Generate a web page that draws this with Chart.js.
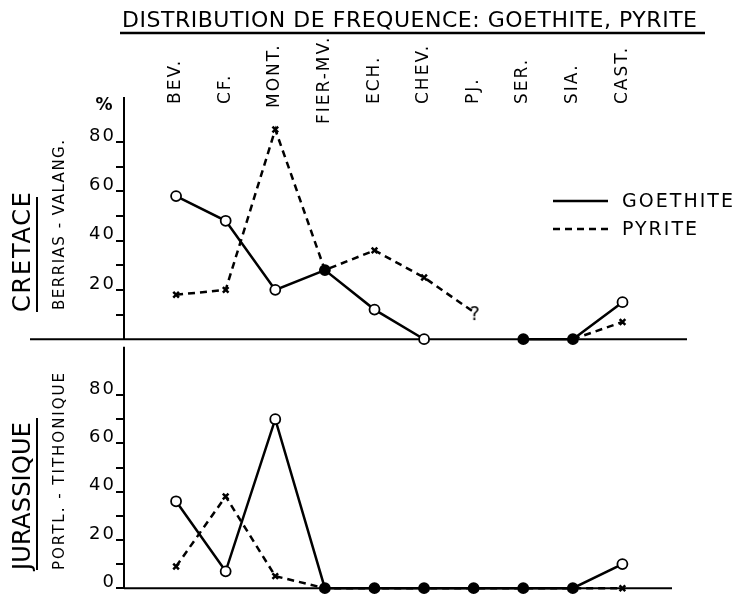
<!DOCTYPE html>
<html>
<head>
<meta charset="utf-8">
<script src="https://cdn.jsdelivr.net/npm/chart.js@4.4.0/dist/chart.umd.min.js"></script>
<style>
html, body { margin: 0; padding: 0; background: #fff; }
#wrap { position: relative; width: 734px; height: 595px; overflow: hidden; }
#topCanvas { position: absolute; left: 0; top: 0; }
#botCanvas { position: absolute; left: 0; top: 340px; }
</style>
</head>
<body>
<div id="wrap">
  <canvas id="topCanvas" width="734" height="346"></canvas>
  <canvas id="botCanvas" width="734" height="255"></canvas>
</div>
<script>
// sites along the section
var siteLabels = ['BEV.', 'CF.', 'MONT.', 'FIER-MV.', 'ECH.', 'CHEV.', 'PJ.', 'SER.', 'SIA.', 'CAST.'];

// frequency in % (null = no observation)
var cretaceGoethite = [58, 48, 20, 28, 12, 0, null, 0, 0, 15];
var cretacePyrite = [18, 20, 85, 28, 36, 25, 11, null, 0, 7];
var jurassicGoethite = [36, 7, 70, 0, 0, 0, 0, 0, 0, 10];
var jurassicPyrite = [9, 38, 5, 0, 0, 0, 0, 0, 0, 0];

var cretaceTicks = [10, 20, 30, 40, 50, 60, 70, 80];
var jurassicTicks = [0, 10, 20, 30, 40, 50, 60, 70, 80];

var FONT = "'DejaVu Sans', sans-serif";

// question mark used as marker where the pyrite curve stops
var qMark = document.createElement('canvas');
qMark.width = 30; qMark.height = 30;
(function(){
    var c = qMark.getContext('2d');
    c.fillStyle = '#000';
    c.font = '19px ' + FONT;
    c.textAlign = 'center';
    c.textBaseline = 'middle';
    c.fillText('?', 16, 18);
})();

function toPoints(arr){
    return arr.map(function(v, i){ return {x: i, y: v}; });
}

function spacedText(ctx, text, x, y, width, font){
    ctx.font = font;
    ctx.letterSpacing = '0px';
    var w = ctx.measureText(text).width;
    var sp = text.length > 1 ? (width - w) / (text.length - 1) : 0;
    ctx.letterSpacing = sp + 'px';
    ctx.fillText(text, x, y);
    ctx.letterSpacing = '0px';
}

function upText(ctx, text, cx, bottom, len, font){
    ctx.save();
    ctx.translate(cx, bottom);
    ctx.rotate(-Math.PI / 2);
    ctx.textAlign = 'left';
    ctx.textBaseline = 'middle';
    spacedText(ctx, text, 0, 0, len, font);
    ctx.restore();
}

var decor = {
    id: 'decor',
    beforeDraw: function(chart, args, o){
        chart.ctx.letterSpacing = '2px';
        // FIER-MV. sits lower than the other site names
        var sc = chart.scales.x;
        if (o.siteShift && sc.options.display) {
            var items = sc._computeLabelItems(chart.chartArea);
            items.forEach(function(it, i){
                var t = it.options && it.options.translation ? it.options.translation : it.translation;
                if (t && o.siteShift[i]) t[1] += o.siteShift[i];
            });
            sc._labelItems = items;
        }
    },
    beforeDatasetsDraw: function(chart, args, o){
        var ctx = chart.ctx, a = chart.chartArea;
        ctx.letterSpacing = '0px';
        ctx.save();
        ctx.strokeStyle = '#000';
        ctx.lineWidth = 2;
        ctx.beginPath();
        ctx.moveTo(a.left, a.top - o.axisAbove);
        ctx.lineTo(a.left, a.bottom);
        ctx.stroke();
        var y0 = chart.scales.y.getPixelForValue(0);
        ctx.beginPath();
        ctx.moveTo(o.zeroFrom, y0);
        ctx.lineTo(a.right, y0);
        ctx.stroke();
        ctx.restore();
    },
    afterDraw: function(chart, args, o){
        var ctx = chart.ctx;
        ctx.save();
        ctx.fillStyle = '#000';
        ctx.strokeStyle = '#000';

        // panel names on the left
        upText(ctx, o.panel, 24, o.panelBottom, o.panelLen, '24px ' + FONT);
        upText(ctx, o.sub, 60, o.subBottom, o.subLen, '15px ' + FONT);
        ctx.lineWidth = 2;
        ctx.beginPath();
        ctx.moveTo(37, o.ulTop);
        ctx.lineTo(37, o.panelBottom);
        ctx.stroke();

        if (o.title) {
            ctx.textAlign = 'left';
            ctx.textBaseline = 'middle';
            spacedText(ctx, 'DISTRIBUTION DE FREQUENCE: GOETHITE, PYRITE', 122, 21, 575, '22px ' + FONT);
            ctx.lineWidth = 2.5;
            ctx.beginPath();
            ctx.moveTo(120, 33);
            ctx.lineTo(705, 33);
            ctx.stroke();

            ctx.font = 'bold 17px ' + FONT;
            ctx.textAlign = 'center';
            ctx.fillText('%', 104, 106);

            // legend
            var ly = [201, 229];
            var lw = [111, 75];
            chart.data.datasets.forEach(function(ds, i){
                ctx.lineWidth = 2.5;
                ctx.setLineDash(ds.borderDash || []);
                ctx.beginPath();
                ctx.moveTo(553, ly[i]);
                ctx.lineTo(608, ly[i]);
                ctx.stroke();
                ctx.setLineDash([]);
                ctx.textAlign = 'left';
                ctx.textBaseline = 'middle';
                spacedText(ctx, ds.label, 622, ly[i] + 1, lw[i], '19px ' + FONT);
            });
        }
        ctx.restore();
    }
};

function makeChart(canvasId, goethite, pyrite, s){
    return new Chart(document.getElementById(canvasId), {
        type: 'line',
        data: {
            datasets: [{
                label: 'GOETHITE',
                data: toPoints(goethite),
                borderColor: '#000',
                borderWidth: 2.5,
                pointRadius: 5,
                pointBorderWidth: 1.8,
                pointBorderColor: '#000',
                pointBackgroundColor: s.goeFill,
                tension: 0,
                clip: false
            }, {
                label: 'PYRITE',
                data: toPoints(pyrite),
                borderColor: '#000',
                borderWidth: 2.5,
                borderDash: [7, 5],
                pointStyle: s.pyrStyle,
                pointRadius: s.pyrRadius,
                pointBorderWidth: 2.5,
                pointBorderColor: '#000',
                tension: 0,
                clip: false
            }]
        },
        options: {
            responsive: false,
            animation: false,
            devicePixelRatio: 1,
            layout: {padding: {top: 0, left: 0, right: s.padRight, bottom: 3}},
            plugins: {
                legend: {display: false},
                tooltip: {enabled: false},
                decor: s.decor
            },
            scales: {
                x: {
                    type: 'linear',
                    position: 'top',
                    display: s.showSites,
                    min: -1.05,
                    max: s.xMax,
                    grid: {display: false},
                    border: {display: false},
                    ticks: {
                        autoSkip: false,
                        minRotation: 90,
                        maxRotation: 90,
                        padding: 18,
                        labelOffset: 20,
                        color: '#000',
                        font: {family: FONT, size: 17},
                        callback: function(v){ return siteLabels[v]; }
                    },
                    afterBuildTicks: function(sc){
                        sc.ticks = siteLabels.map(function(_, i){ return {value: i}; });
                    },
                    afterFit: function(sc){
                        sc.height = s.axisHeight;
                        sc.paddingLeft = 0;
                        sc.paddingRight = 0;
                    }
                },
                y: {
                    min: 0,
                    max: s.yMax,
                    position: 'left',
                    border: {display: false},
                    grid: {drawOnChartArea: false, drawTicks: true, tickLength: 8, color: '#000', lineWidth: 2},
                    ticks: {
                        autoSkip: false,
                        padding: 0,
                        align: 'end',
                        labelOffset: 3,
                        color: '#000',
                        font: {family: FONT, size: 18},
                        callback: function(v){ return v % 20 === 0 ? String(v) : ''; }
                    },
                    afterBuildTicks: function(sc){
                        sc.ticks = s.yTicks.map(function(v){ return {value: v}; });
                    },
                    afterFit: function(sc){
                        sc.width = 124;
                        sc.paddingTop = 0;
                        sc.paddingBottom = 0;
                    }
                }
            }
        },
        plugins: [decor]
    });
}

var W = '#fff', B = '#000';

makeChart('topCanvas', cretaceGoethite, cretacePyrite, {
    goeFill: [W, W, W, B, W, W, W, B, B, W],
    pyrStyle: ['crossRot', 'crossRot', 'crossRot', 'crossRot', 'crossRot', 'crossRot', qMark, 'crossRot', 'crossRot', 'crossRot'],
    pyrRadius: [4, 4, 4, 0, 4, 4, 6, 0, 0, 4],
    padRight: 47,
    showSites: true,
    xMax: 10.3,
    yMax: 84.8,
    axisHeight: 130,
    yTicks: cretaceTicks,
    decor: {axisAbove: 33, zeroFrom: 30, title: true, panel: 'CRETACE', sub: 'BERRIAS - VALANG.',
            panelBottom: 312, panelLen: 120, subBottom: 310, subLen: 170, ulTop: 197,
            siteShift: [0, 0, 4, 20, 0, 0, 0, 0, 0, 0]}
});

makeChart('botCanvas', jurassicGoethite, jurassicPyrite, {
    goeFill: [W, W, W, B, B, B, B, B, B, W],
    pyrStyle: 'crossRot',
    pyrRadius: [4, 4, 4, 0, 0, 0, 0, 0, 0, 4],
    padRight: 62,
    showSites: false,
    xMax: 10.0,
    yMax: 100,
    axisHeight: 3,
    yTicks: jurassicTicks,
    decor: {axisAbove: 0, zeroFrom: 124, title: false, panel: 'JURASSIQUE', sub: 'PORTL. - TITHONIQUE',
            panelBottom: 230, panelLen: 148, subBottom: 230, subLen: 197, ulTop: 78}
});
</script>
</body>
</html>
